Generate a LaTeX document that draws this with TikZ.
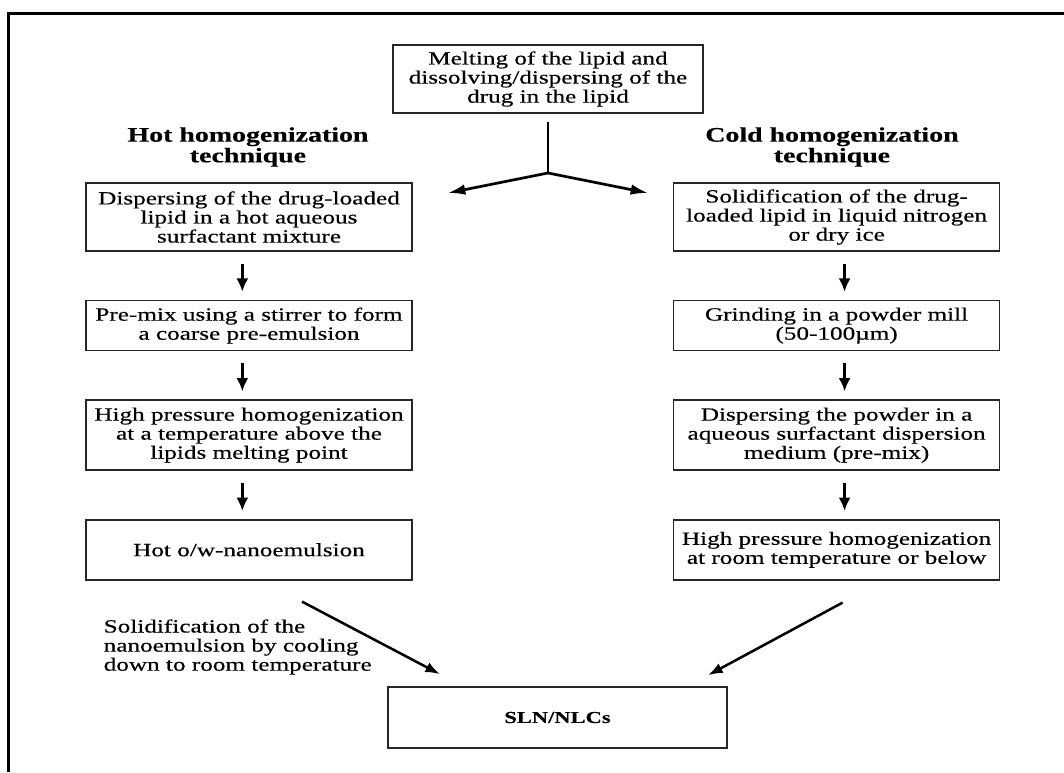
\documentclass[tikz,border=0pt]{standalone}
\usepackage{fontspec}
\setmainfont{Liberation Serif}[FakeStretch=1.35,FakeBold=0.4]
\usetikzlibrary{arrows.meta,positioning}

\begin{document}
\begin{tikzpicture}[
  x=0.75pt, y=-0.75pt,
  node distance=36pt and 195pt,
  box/.style={draw=black!85, line width=1.2pt, align=center, inner sep=3pt, minimum width=244.5pt, font=\fontsize{14pt}{14.3pt}\selectfont},
  head/.style={align=center, font=\fontsize{15.5pt}{15.5pt}\selectfont\bfseries},
  arr/.style={-{Latex[length=10pt,width=9pt]}, line width=2.2pt, shorten <=9pt, shorten >=6pt},
  split/.style={-{Latex[length=13pt,width=8pt]}, line width=2pt},
  diag/.style={-{Latex[length=11pt,width=8pt]}, line width=1.9pt}
]
\useasboundingbox (0,0) rectangle (1064,772);
\draw[line width=2.25pt] (8,772) -- (8,13) -- (1064,13);

\node[box, minimum width=232.5pt, minimum height=51pt] (melt) at (548,79) {Melting of the lipid and\\dissolving/dispersing of the\\drug in the lipid};
\coordinate (fork) at (548,173);
\coordinate (hotfork) at (448,193);
\coordinate (coldfork) at (648,193);

\node[head] (hothead) at (248,147) {Hot homogenization\\technique};
\node[head] (coldhead) at (832,147) {Cold homogenization\\technique};

\node[box, minimum height=51pt] (hot1) at (249,217) {Dispersing of the drug-loaded\\lipid in a hot aqueous\\surfactant mixture};
\node[box, minimum height=51pt, right=of hot1] (cold1) {Solidification of the drug-\\loaded lipid in liquid nitrogen\\or dry ice};
\node[box, minimum height=37.5pt, below=of hot1] (hot2) {Pre-mix using a stirrer to form\\a coarse pre-emulsion};
\node[box, minimum height=37.5pt, below=of cold1] (cold2) {Grinding in a powder mill\\(50-100µm)};
\node[box, minimum height=52.5pt, below=of hot2] (hot3) {High pressure homogenization\\at a temperature above the\\lipids melting point};
\node[box, minimum height=52.5pt, below=of cold2] (cold3) {Dispersing the powder in a\\aqueous surfactant dispersion\\medium (pre-mix)};
\node[box, minimum height=45pt, below=of hot3] (hot4) {Hot o/w-nanoemulsion};
\node[box, minimum height=45pt, below=of cold3] (cold4) {High pressure homogenization\\at room temperature or below};

\node[box, minimum width=254pt, minimum height=45.75pt, font=\fontsize{12.5pt}{14pt}\selectfont\bfseries] (sln) at (557.5,717.5) {SLN/NLCs};
\node[anchor=west, align=left, font=\fontsize{14pt}{14.3pt}\selectfont] (cool) at (99,647) {Solidification of the\\nanoemulsion by cooling\\down to room temperature};

% split into the two techniques
\draw[line width=2pt, shorten <=6pt] (melt.south) -- (fork);
\draw[split] (fork) -- (hotfork);
\draw[split] (fork) -- (coldfork);

% hot branch
\draw[arr] ([xshift=-5pt]hot1.south) -- ([xshift=-5pt]hot2.north);
\draw[arr] ([xshift=-5pt]hot2.south) -- ([xshift=-5pt]hot3.north);
\draw[arr] ([xshift=-5pt]hot3.south) -- ([xshift=-5pt]hot4.north);

% cold branch
\draw[arr] ([xshift=6pt]cold1.south) -- ([xshift=6pt]cold2.north);
\draw[arr] ([xshift=6pt]cold2.south) -- ([xshift=6pt]cold3.north);
\draw[arr] ([xshift=6pt]cold3.south) -- ([xshift=6pt]cold4.north);

\draw[diag] ([shift={(53,21)}]hot4.south) -- ([shift={(-117.5,-12)}]sln.north);
\draw[diag] ([shift={(6,22)}]cold4.south) -- ([shift={(150.5,-11)}]sln.north);
\end{tikzpicture}
\end{document}
